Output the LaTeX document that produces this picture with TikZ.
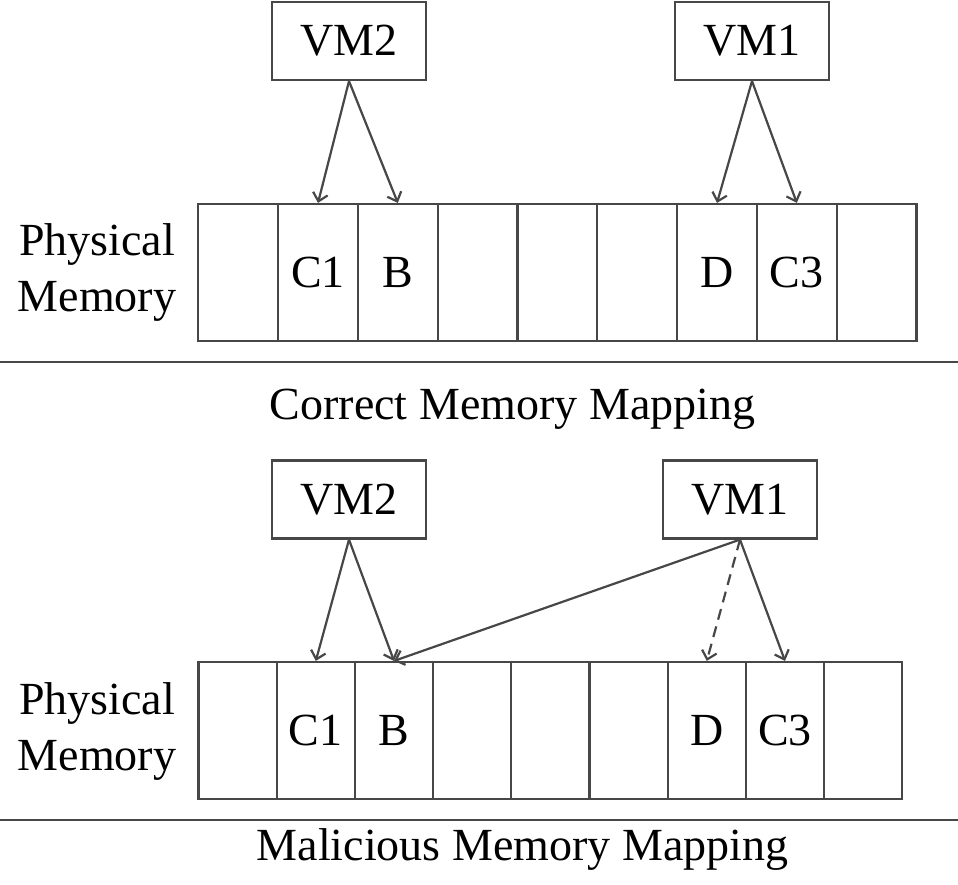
\documentclass[tikz,border=0pt]{standalone}
\usepackage{fontspec}
\setmainfont{Liberation Serif}
\usepackage{xcolor}
\usetikzlibrary{arrows.meta}

\begin{document}
\begin{tikzpicture}[x=1pt, y=-1pt, line width=2.2pt, draw=black!72,
        every node/.style = {font=\fontsize{46}{56}\selectfont},
        vm/.style = {draw, minimum width=154pt, minimum height=78pt, inner sep=0pt},
        cell/.style = {draw, minimum height=137pt, inner sep=0pt},
        top/.style = {cell, minimum width=79.8pt},
        bot/.style = {cell, minimum width=78.2pt},
        map/.style = {-{Straight Barb[length=8pt, width=15pt]}}]
        \useasboundingbox (0,0) rectangle (958,884);
        % correct mapping
        \node [vm] (vmb) at (349, 41) {VM2};
        \node [vm] (vma) at (752, 41) {VM1};
        \node [align=center] (phya) at (97, 272) {Physical\\Memory};
        \node [top] (t1) at (238.2, 272.5) {};
        \node [top] (t2) at (318.0, 272.5) {C1};
        \node [top] (t3) at (397.8, 272.5) {B};
        \node [top] (t4) at (477.6, 272.5) {};
        \node [top] (t5) at (557.4, 272.5) {};
        \node [top] (t6) at (637.2, 272.5) {};
        \node [top] (t7) at (717.0, 272.5) {D};
        \node [top] (t8) at (796.8, 272.5) {C3};
        \node [top] (t9) at (876.6, 272.5) {};
        \draw[map] (vmb.south) -- (t2.north);
        \draw[map] (vmb.south) -- (t3.north);
        \draw[map] (vma.south) -- (t7.north);
        \draw[map] (vma.south) -- (t8.north);
        \draw (0, 362) -- (958, 362);
        \node [anchor=base] (capa) at (512.5, 419) {Correct Memory Mapping};
        % malicious mapping
        \node [vm] (vmd) at (349, 499.5) {VM2};
        \node [vm] (vmc) at (740, 499.5) {VM1};
        \node [align=center] (phyb) at (97, 731) {Physical\\Memory};
        \node [bot] (b1) at (237.6, 730.5) {};
        \node [bot] (b2) at (315.8, 730.5) {C1};
        \node [bot] (b3) at (394.0, 730.5) {B};
        \node [bot] (b4) at (472.2, 730.5) {};
        \node [bot] (b5) at (550.4, 730.5) {};
        \node [bot] (b6) at (628.6, 730.5) {};
        \node [bot] (b7) at (706.8, 730.5) {D};
        \node [bot] (b8) at (785.0, 730.5) {C3};
        \node [bot] (b9) at (863.2, 730.5) {};
        \draw[map] (vmd.south) -- (b2.north);
        \draw[map] (vmd.south) -- (b3.north);
        \draw[map] (vmc.south) -- (b3.north);
        \draw[map, dash pattern=on 11pt off 7pt] (vmc.south) -- (b7.north);
        \draw[map] (vmc.south) -- (b8.north);
        \draw (0, 820) -- (958, 820);
        \node [anchor=base] (capb) at (522.5, 860) {Malicious Memory Mapping};
\end{tikzpicture}
\end{document}
